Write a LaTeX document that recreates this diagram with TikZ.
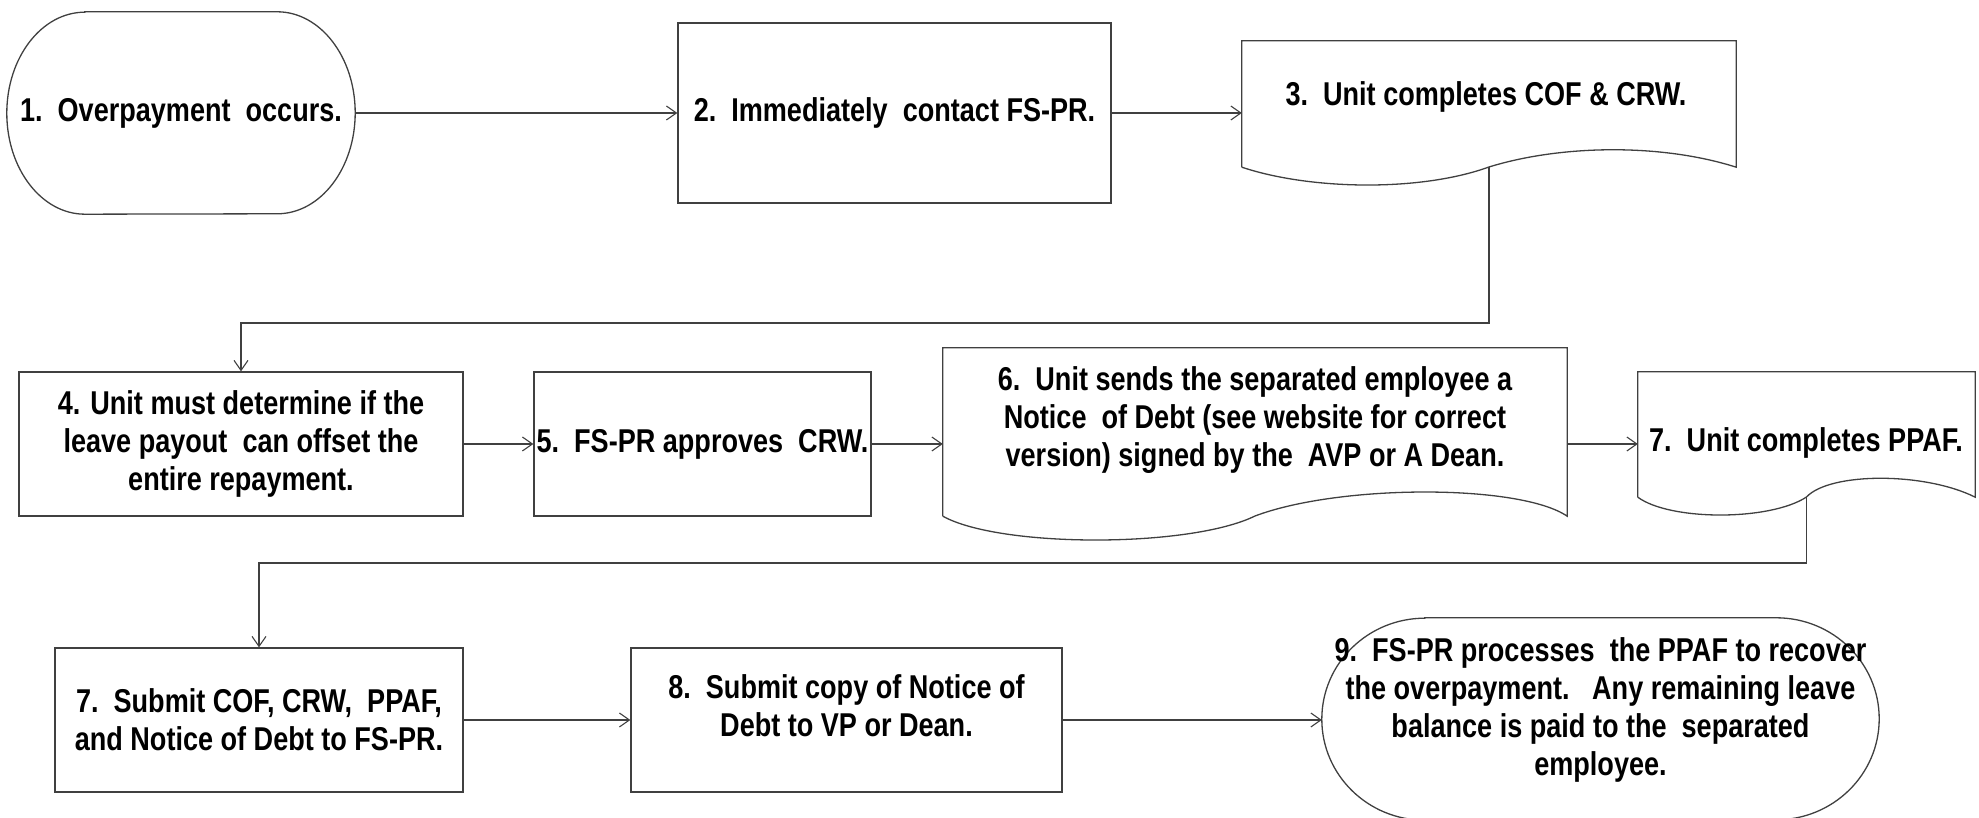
\documentclass[tikz,border=0pt]{standalone}
\usepackage{fontspec}
\setmainfont{Liberation Sans}[FakeStretch=0.82]
\usetikzlibrary{arrows.meta,calc}

\tikzset{
  outline/.style={draw=black!75, line width=1.3pt},
  boxnode/.style={outline, fill=white, inner sep=0pt, align=center,
    font=\bfseries\fontsize{33}{38}\selectfont},
  shapenode/.style={draw=none, inner sep=0pt},
  txt/.style={inner sep=0pt, align=center, font=\bfseries\fontsize{33}{38}\selectfont},
  arr/.style={draw=black!75, line width=1.3pt,
    -{Straight Barb[length=10pt,width=14pt,line width=1.1pt]}},
}

\begin{document}
\begin{tikzpicture}[x=1pt,y=1pt]
\useasboundingbox (0,0) rectangle (1979,818);

% ---------- row 1 ----------
% 1: terminator with elliptical ends
\node[shapenode, minimum width=348pt, minimum height=202pt] (n1) at (181,705) {};
\draw[outline] ($(n1.north west)+(78,0)$) -- ($(n1.north east)+(-78,0)$)
  arc[start angle=90, end angle=-90, x radius=78pt, y radius=101pt]
  -- ($(n1.south west)+(78,0)$)
  arc[start angle=270, end angle=90, x radius=78pt, y radius=101pt] -- cycle;
\node[txt] (t1) at (n1.center) {1.\ \ Overpayment\ \ occurs.};

% 2: process box
\node[boxnode, minimum width=433pt, minimum height=180pt] (n2) at (894.5,705)
  {2.\ \ Immediately\ \ contact FS-PR.};

% 3: document shape
\node[shapenode, minimum width=494pt, minimum height=126pt] (n3) at (1489,714) {};
\coordinate (n3w) at (1489,651);
\draw[outline] (n3.south west) -- (n3.north west) -- (n3.north east) -- (n3.south east)
  .. controls (1660,675) and (1560,673) .. (n3w)
  .. controls (1420,626) and (1310,628) .. (n3.south west);
\node[txt] (t3) at (1486,721) {3.\ \ Unit completes COF \& CRW.};

% ---------- row 2 ----------
\node[boxnode, minimum width=444pt, minimum height=144pt] (n4) at (241,374)
  {4. Unit must determine if the\\leave payout\ \ can offset the\\entire repayment.};

\node[boxnode, minimum width=337pt, minimum height=144pt] (n5) at (702.5,374)
  {5.\ \ FS-PR approves\ \ CRW.};

% 6: document shape
\node[shapenode, minimum width=624pt, minimum height=168pt] (n6) at (1255,386) {};
\coordinate (n6w) at (1255,302);
\draw[outline] (n6.south west) -- (n6.north west) -- (n6.north east) -- (n6.south east)
  .. controls (1520,334) and (1340,334) .. (n6w)
  .. controls (1190,270) and (1000,270) .. (n6.south west);
\node[txt] (t6) at (1255,398)
  {6.\ \ Unit sends the separated employee a\\Notice\ \ of Debt (see website for correct\\version) signed by the\ \ AVP or A Dean.};

% 7: document shape
\node[shapenode, minimum width=337pt, minimum height=125pt] (n7) at (1806.5,383.5) {};
\coordinate (n7w) at (1806.5,321);
\draw[outline] (n7.south west) -- (n7.north west) -- (n7.north east) -- (n7.south east)
  .. controls (1925,346) and (1830,346) .. (n7w)
  .. controls (1770,297) and (1670,297) .. (n7.south west);
\node[txt] (t7) at (1806,375) {7.\ \ Unit completes PPAF.};

% ---------- row 3 ----------
\node[boxnode, minimum width=408pt, minimum height=144pt] (n7b) at (259,98)
  {7.\ \ Submit COF, CRW,\ \ PPAF,\\and Notice of Debt to FS-PR.};

\node[shapenode, outline, fill=white, minimum width=431pt, minimum height=144pt] (n8) at (846.5,98) {};
\node[txt] (t8) at (846.5,112) {8.\ \ Submit copy of Notice of\\Debt to VP or Dean.};

% 9: terminator with elliptical ends
\node[shapenode, minimum width=557pt, minimum height=202pt] (n9) at (1600.5,99) {};
\draw[outline] ($(n9.north west)+(103,0)$) -- ($(n9.north east)+(-103,0)$)
  arc[start angle=90, end angle=-90, x radius=103pt, y radius=101pt]
  -- ($(n9.south west)+(103,0)$)
  arc[start angle=270, end angle=90, x radius=103pt, y radius=101pt] -- cycle;
\node[txt] (t9) at (1600.5,108)
  {9.\ \ FS-PR processes\ \ the PPAF to recover\\the overpayment.\ \ \ Any remaining leave\\balance is paid to the\ \ separated\\employee.};

% ---------- connectors ----------
\coordinate (bend1) at (0,495);
\coordinate (bend2) at (0,255);

\draw[arr] (n1.east) -- (n2.west);
\draw[arr] (n2.east) -- (n2.east -| n3.west);
\draw[arr] (n3w) -- (n3w |- bend1) -| (n4.north);
\draw[arr] (n4.east) -- (n5.west);
\draw[arr] (n5.east) -- (n5.east -| n6.west);
\draw[arr] (n5.east -| n6.east) -- (n5.east -| n7.west);
\draw[arr] (n7w) -- (n7w |- bend2) -| (n7b.north);
\draw[arr] (n7b.east) -- (n8.west);
\draw[arr] (n8.east) -- (n8.east -| n9.west);
\end{tikzpicture}
\end{document}
